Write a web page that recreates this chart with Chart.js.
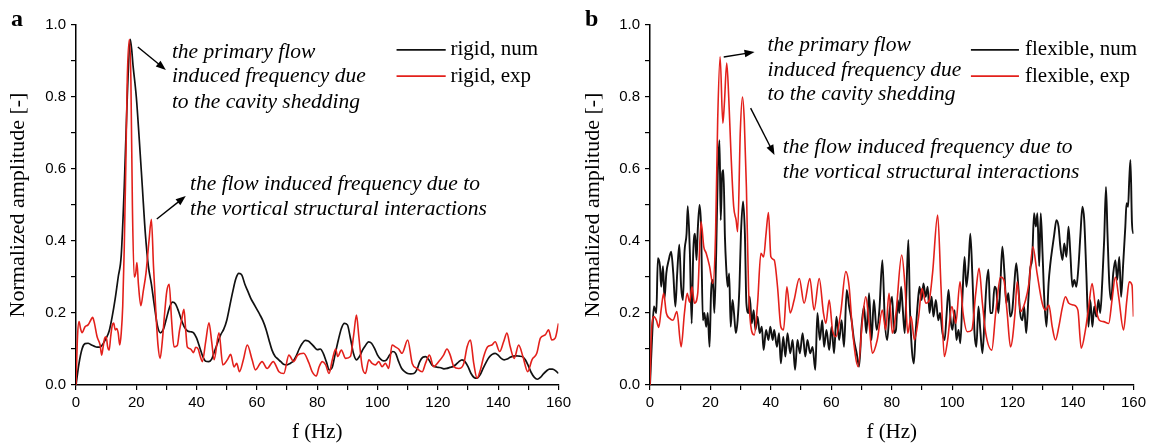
<!DOCTYPE html>
<html><head><meta charset="utf-8">
<script src="https://cdn.jsdelivr.net/npm/chart.js@4.4.0/dist/chart.umd.min.js"></script>
<style>
html,body{margin:0;padding:0;background:#fff;}
#wrap{position:relative;width:1150px;height:443px;overflow:hidden;}
.c{position:absolute;top:0;width:575px;height:443px;}
</style></head><body>
<div id="wrap">
<div class="c" style="left:0"><canvas id="ca" width="575" height="443"></canvas></div>
<div class="c" style="left:575px"><canvas id="cb" width="575" height="443"></canvas></div>
</div>
<script>
// ---------- Panel a : rigid ----------
const rigidNumF = [0,1,2,3,4,5,6,7,8,9,10,11,12,13,14,15,16,17,18,19,20,21,22,23,24,25,26,27,28,29,30,31,32,33,34,35,36,37,38,39,40,41,42,43,44,45,46,47,48,49,50,51,52,53,54,55,56,57,58,59,60,61,62,63,64,65,66,67,68,69,70,71,72,73,74,75,76,77,78,79,80,81,82,83,84,85,86,87,88,89,90,91,92,93,94,95,96,97,98,99,100,101,102,103,104,105,106,107,108,109,110,111,112,113,114,115,116,117,118,119,120,121,122,123,124,125,126,127,128,129,130,131,132,133,134,135,136,137,138,139,140,141,142,143,144,145,146,147,148,149,150,151,152,153,154,155,156,157,158,159,160];
const rigidNumA = [0,0.06,0.1,0.115,0.116,0.112,0.108,0.105,0.105,0.115,0.13,0.15,0.19,0.24,0.3,0.36,0.55,0.8,0.96,0.88,0.8,0.68,0.55,0.42,0.33,0.28,0.22,0.165,0.145,0.155,0.185,0.215,0.23,0.225,0.205,0.18,0.16,0.15,0.148,0.145,0.13,0.105,0.08,0.066,0.065,0.072,0.095,0.118,0.14,0.155,0.18,0.22,0.26,0.295,0.31,0.305,0.28,0.26,0.24,0.225,0.21,0.195,0.178,0.155,0.125,0.097,0.08,0.072,0.064,0.057,0.056,0.06,0.066,0.08,0.1,0.115,0.124,0.122,0.115,0.106,0.098,0.1,0.088,0.065,0.042,0.05,0.088,0.125,0.157,0.171,0.167,0.13,0.088,0.07,0.079,0.097,0.11,0.12,0.116,0.102,0.083,0.072,0.067,0.07,0.083,0.093,0.088,0.065,0.046,0.037,0.032,0.031,0.032,0.042,0.065,0.077,0.079,0.07,0.056,0.051,0.049,0.048,0.045,0.046,0.049,0.051,0.057,0.065,0.07,0.065,0.051,0.032,0.021,0.019,0.028,0.046,0.063,0.077,0.085,0.088,0.083,0.074,0.07,0.072,0.077,0.08,0.081,0.08,0.079,0.07,0.053,0.034,0.021,0.016,0.021,0.031,0.039,0.044,0.044,0.04,0.032];

const rigidExpF = [0,0.5,1,1.5,2,3,4,5,5.5,6,7,8,8.5,9,9.5,10,10.5,11,11.5,12,12.5,13,13.5,14,14.5,15,15.5,16,16.5,17,17.7,18.2,18.7,19.3,19.8,20.2,20.7,21.5,22.3,23.2,24.2,25,25.7,26.5,27.2,27.9,28.6,29.4,30.1,30.9,31.7,32.5,33.6,34.3,35,35.8,36.4,36.9,38,39,39.7,40.5,41.2,41.9,43,44.1,45,45.8,47.4,48.7,50.2,51.3,52.4,53.3,54.2,55.5,56.8,58.4,59.5,61.7,63.4,65.4,67.3,68.9,70.6,72.2,73.5,75.5,77.2,78.3,79.7,80.6,81.7,82.8,83.9,85,86.1,86.8,88,89.4,91,92.1,93,93.8,94.9,96,97.1,98.2,99.3,100.4,101.5,102.6,103.7,104.8,105.9,107,108.1,110,111.5,113.1,114.8,115.9,117.2,118.6,120.3,121.9,123,124.1,125.3,126.9,128.6,129.7,130.8,131.9,133,134.1,135.2,136.5,137.9,139,140.5,141.8,142.9,144,145.3,146.8,148.2,149.8,151.2,152.8,154,155.6,156.7,157.8,158.9,160];
const rigidExpA = [0,0.134,0.176,0.157,0.145,0.162,0.167,0.182,0.188,0.176,0.134,0.111,0.083,0.106,0.13,0.134,0.106,0.097,0.134,0.165,0.172,0.153,0.157,0.144,0.111,0.144,0.22,0.38,0.6,0.85,0.96,0.85,0.5,0.3,0.31,0.34,0.28,0.22,0.26,0.31,0.4,0.46,0.33,0.2,0.11,0.074,0.12,0.2,0.26,0.28,0.18,0.106,0.11,0.15,0.18,0.21,0.15,0.106,0.1,0.09,0.105,0.1,0.08,0.065,0.12,0.173,0.12,0.07,0.145,0.056,0.07,0.085,0.05,0.06,0.037,0.07,0.111,0.07,0.042,0.065,0.046,0.065,0.037,0.032,0.083,0.065,0.083,0.088,0.062,0.037,0.025,0.05,0.065,0.056,0.032,0.07,0.1,0.079,0.097,0.074,0.079,0.14,0.194,0.134,0.051,0.032,0.07,0.06,0.056,0.065,0.051,0.06,0.046,0.111,0.106,0.1,0.088,0.125,0.06,0.046,0.037,0.06,0.083,0.051,0.065,0.083,0.1,0.083,0.051,0.046,0.06,0.106,0.125,0.06,0.019,0.042,0.079,0.106,0.111,0.12,0.093,0.12,0.144,0.106,0.074,0.111,0.079,0.037,0.07,0.088,0.13,0.139,0.153,0.125,0.13,0.171];

// ---------- Panel b : flexible ----------
const flexNumF = [0,0.7,1.3,2.1,2.6,3.3,3.7,4.3,4.8,5.4,6.2,7,7.7,8.4,9,9.7,10.3,10.9,11.4,12.1,12.5,13.2,13.8,14.3,14.9,15.4,15.8,16.4,16.9,17.5,18,18.6,19.1,19.7,20.2,20.8,21.3,21.9,22.4,23,23.4,23.9,24.3,24.8,25.2,25.7,26.2,26.7,27.3,27.8,28.4,29,29.6,30.1,30.8,31.4,31.9,32.6,33,33.7,34.3,34.9,35.6,36.3,37,37.6,38.4,39.2,39.8,40.6,41.1,42,42.7,43.3,44.1,44.8,45.5,46.4,47.2,48,48.8,49.6,50.5,51.4,52.1,53,53.8,54.7,55.4,56.2,57,57.6,58.4,59.3,60.1,60.9,61.7,62.6,63.4,64.2,65.1,65.9,66.7,67.5,68.4,69.2,70,70.8,71.6,72.5,73.3,74.1,75,75.9,76.9,77.7,78.5,79.3,80.1,80.8,81.4,82,82.5,83.1,83.6,84.3,84.9,85.5,86,86.6,87.3,87.9,88.6,89.2,89.9,90.5,91.2,91.9,92.5,93.2,93.8,94.6,95.4,96,96.8,97.5,98.1,98.8,99.5,100.1,100.8,101.4,102.1,102.7,103.4,104.1,104.7,105.4,106,106.7,107.4,108,108.7,109.3,110,110.7,111.3,112,112.6,113.3,114,114.6,115.3,115.9,116.6,117.3,117.9,118.6,119.2,119.9,120.5,121.2,121.9,122.5,123.2,123.8,124.5,125.2,125.8,126.5,127.1,127.7,128.2,128.8,129.3,129.9,130.5,131.2,131.9,132.5,133.2,133.8,134.5,135.2,135.8,136.5,137.1,137.8,138.5,139.1,139.8,140.4,141.1,141.8,142.4,143.1,143.7,144.4,145.1,145.7,146.4,147,147.7,148.4,149,149.7,150.3,150.9,151.4,152,152.6,153.3,154,154.6,155.3,155.9,156.6,157.3,157.7,158.2,158.6,159,159.5,160];
const flexNumA = [0,0.134,0.218,0.2,0.352,0.33,0.273,0.33,0.24,0.31,0.347,0.37,0.31,0.218,0.31,0.39,0.273,0.236,0.366,0.42,0.497,0.366,0.171,0.366,0.42,0.347,0.43,0.5,0.44,0.18,0.2,0.162,0.2,0.106,0.255,0.292,0.2,0.366,0.58,0.68,0.458,0.588,0.597,0.41,0.33,0.273,0.31,0.162,0.236,0.2,0.144,0.18,0.273,0.42,0.51,0.42,0.227,0.2,0.245,0.171,0.208,0.153,0.19,0.144,0.162,0.097,0.153,0.125,0.162,0.125,0.153,0.106,0.144,0.06,0.134,0.079,0.144,0.088,0.125,0.042,0.125,0.088,0.144,0.079,0.125,0.088,0.106,0.042,0.2,0.125,0.18,0.106,0.153,0.097,0.162,0.088,0.19,0.125,0.18,0.106,0.264,0.218,0.18,0.125,0.088,0.051,0.162,0.218,0.144,0.255,0.125,0.236,0.153,0.208,0.347,0.18,0.125,0.208,0.245,0.144,0.153,0.236,0.2,0.273,0.218,0.144,0.273,0.403,0.218,0.106,0.06,0.144,0.227,0.273,0.236,0.282,0.245,0.273,0.2,0.245,0.19,0.236,0.18,0.2,0.144,0.125,0.19,0.264,0.18,0.153,0.208,0.125,0.153,0.116,0.245,0.356,0.273,0.33,0.42,0.3,0.144,0.106,0.218,0.153,0.088,0.18,0.273,0.32,0.2,0.2,0.273,0.264,0.2,0.273,0.384,0.31,0.227,0.255,0.19,0.208,0.273,0.338,0.273,0.2,0.18,0.218,0.144,0.236,0.32,0.356,0.477,0.44,0.477,0.33,0.477,0.366,0.236,0.162,0.282,0.338,0.384,0.42,0.458,0.44,0.384,0.347,0.393,0.356,0.44,0.366,0.273,0.292,0.273,0.33,0.412,0.495,0.458,0.31,0.162,0.236,0.162,0.218,0.19,0.236,0.2,0.292,0.403,0.55,0.42,0.282,0.236,0.31,0.347,0.292,0.356,0.245,0.338,0.44,0.505,0.495,0.57,0.625,0.45,0.42];

const flexExpF = [0,0.4,1.3,2.1,2.9,3.7,4.5,5.4,6.5,7.6,8.9,10.3,11.4,12.3,13.1,13.9,14.7,15.8,16.9,17.8,18.6,19.7,20.8,21.7,22.4,23.2,24.1,24.6,25.4,26.1,26.8,27.7,28.5,29,29.9,30.6,31.2,31.9,32.6,33.4,34.5,35.6,36.7,37.6,38.4,39.2,40,41.1,42.2,43.3,44.2,45.3,46.4,47.7,49.4,51,52.9,54.3,56,57.4,58.2,59.3,60.4,61.5,63.1,64.8,65.9,67,68.9,70.3,71.4,72.5,73.6,75.2,76.9,78,79.1,80.2,81.4,83.3,84.4,85.3,86.4,87.5,88.9,90,91.3,92.4,93.5,95.2,96.3,97.4,98.5,99.9,101.2,102.6,103.6,105,106.5,107.8,108.9,110,111.1,113.1,114.4,116,117.1,118.2,119.3,120.8,121.5,122.6,124.3,125.4,126.7,128.1,129.8,130.9,132,133.1,134.2,135.3,136.4,137.5,138.6,140.2,141.6,142.7,144.1,145.2,146.3,147.4,148.7,150.1,151.8,152.9,154,155.1,156.7,157.8,158.6,159.5,160];
const flexExpA = [0,0.134,0.19,0.18,0.16,0.21,0.255,0.2,0.185,0.18,0.204,0.106,0.2,0.255,0.23,0.273,0.227,0.255,0.454,0.384,0.366,0.33,0.282,0.42,0.736,0.912,0.727,0.78,0.894,0.79,0.643,0.495,0.458,0.426,0.708,0.8,0.736,0.55,0.273,0.162,0.139,0.227,0.366,0.356,0.42,0.479,0.356,0.347,0.273,0.162,0.153,0.273,0.2,0.236,0.296,0.227,0.296,0.208,0.296,0.2,0.171,0.236,0.153,0.134,0.2,0.315,0.273,0.153,0.051,0.18,0.245,0.171,0.088,0.125,0.208,0.153,0.255,0.144,0.2,0.361,0.273,0.144,0.19,0.125,0.19,0.268,0.227,0.236,0.31,0.472,0.273,0.079,0.125,0.218,0.171,0.287,0.2,0.148,0.153,0.255,0.324,0.227,0.144,0.097,0.2,0.3,0.292,0.2,0.106,0.2,0.287,0.204,0.236,0.282,0.384,0.31,0.227,0.208,0.222,0.162,0.125,0.162,0.213,0.245,0.227,0.222,0.208,0.102,0.153,0.218,0.282,0.218,0.18,0.176,0.171,0.236,0.3,0.245,0.153,0.236,0.287,0.278,0.19];

// ---------- Text ----------
const xTitle = 'f (Hz)';
const yTitle = 'Normalized amplitude [-]';
const rigidLabels = ['rigid, num', 'rigid, exp'];
const flexLabels = ['flexible, num', 'flexible, exp'];
const notePrimary = ['the primary flow', 'induced frequency due', 'to the cavity shedding'];
const noteVortical = ['the flow induced frequency due to', 'the vortical structural interactions'];

const BLACK = '#111111', RED = '#e3201b';
const SERIF = '"Liberation Serif", "Times New Roman", serif';
const SANS = '"Liberation Sans", Arial, sans-serif';

function arrow(ctx, x1, y1, x2, y2) {
  const a = Math.atan2(y2 - y1, x2 - x1), L = 10, W = 3.8;
  ctx.beginPath(); ctx.moveTo(x1, y1);
  ctx.lineTo(x2 - L * 0.7 * Math.cos(a), y2 - L * 0.7 * Math.sin(a)); ctx.stroke();
  ctx.beginPath(); ctx.moveTo(x2, y2);
  ctx.lineTo(x2 - L * Math.cos(a) + W * Math.sin(a), y2 - L * Math.sin(a) - W * Math.cos(a));
  ctx.lineTo(x2 - L * Math.cos(a) - W * Math.sin(a), y2 - L * Math.sin(a) + W * Math.cos(a));
  ctx.closePath(); ctx.fill();
}

const overlay = {
  id: 'overlay',
  afterDatasetsDraw(chart, args, o) {
    const ctx = chart.ctx, xs = chart.scales.x, ys = chart.scales.y;
    const X = v => xs.getPixelForValue(v), Y = v => ys.getPixelForValue(v);
    ctx.save();
    ctx.fillStyle = '#000'; ctx.strokeStyle = '#000';
    // panel letter
    ctx.font = 'bold 24px ' + SERIF; ctx.textBaseline = 'alphabetic'; ctx.textAlign = 'left';
    ctx.fillText(o.letter, o.letterPos[0], o.letterPos[1]);
    // legend
    ctx.font = '21px ' + SERIF; ctx.textBaseline = 'middle';
    o.legendOrder.forEach((di, i) => {
      const ds = chart.data.datasets[di];
      const y = Y(o.legendY[i]);
      ctx.strokeStyle = ds.borderColor; ctx.lineWidth = 1.6;
      ctx.beginPath(); ctx.moveTo(X(o.legendLine[0]), y); ctx.lineTo(X(o.legendLine[1]), y); ctx.stroke();
      ctx.fillStyle = '#000';
      ctx.fillText(ds.label, X(o.legendText), y);
    });
    // notes
    ctx.font = 'italic 21.5px ' + SERIF; ctx.fillStyle = '#000';
    o.notes.forEach(n => {
      n.lines.forEach((t, i) => ctx.fillText(t, X(n.x), Y(n.y[i])));
    });
    ctx.strokeStyle = '#000'; ctx.lineWidth = 1.4;
    o.arrows.forEach(a => arrow(ctx, X(a[0]), Y(a[1]), X(a[2]), Y(a[3])));
    ctx.restore();
  }
};

function series(F, A) { return F.map((f, i) => ({x: f, y: A[i]})); }

function options(yWidth, padRight, ov) {
  return {
    responsive: false, animation: false, devicePixelRatio: 1,
    layout: {padding: {top: 25, right: padRight, left: 0, bottom: 0}},
    plugins: {legend: {display: false}, tooltip: {enabled: false}, overlay: ov},
    elements: {point: {radius: 0}, line: {borderWidth: 1.6, cubicInterpolationMode: 'monotone'}},
    scales: {
      x: {
        type: 'linear', min: 0, max: 160,
        afterFit(s) { s.height = 58; },
        border: {display: true, color: '#000', width: 1.5},
        grid: {drawOnChartArea: false, drawTicks: true, tickLength: 5, color: '#000', lineWidth: 1.2},
        ticks: {stepSize: 10, autoSkip: false, maxRotation: 0, padding: 4, color: '#000',
          font: {family: SANS, size: 15},
          callback: v => (Math.round(v) % 20 === 0 ? String(Math.round(v)) : '')},
        title: {display: true, text: xTitle, color: '#000', font: {family: SERIF, size: 21, lineHeight: 1}, padding: {top: 0, bottom: 0}}
      },
      y: {
        min: 0, max: 1,
        afterFit(s) { s.width = yWidth; },
        border: {display: true, color: '#000', width: 1.5},
        grid: {drawOnChartArea: false, drawTicks: true, tickLength: 5, color: '#000', lineWidth: 1.2},
        ticks: {stepSize: 0.1, autoSkip: false, padding: 5, color: '#000',
          font: {family: SANS, size: 15},
          callback: v => (Math.round(v * 10) % 2 === 0 ? v.toFixed(1) : '')},
        title: {display: true, text: yTitle, color: '#000', font: {family: SERIF, size: 22, lineHeight: 1}, padding: {top: 7.5, bottom: 0}}
      }
    }
  };
}

new Chart(document.getElementById('ca'), {
  type: 'line',
  data: {datasets: [
    {label: rigidLabels[0], data: series(rigidNumF, rigidNumA), borderColor: BLACK, borderWidth: 1.7, order: 1},
    {label: rigidLabels[1], data: series(rigidExpF, rigidExpA), borderColor: RED, borderWidth: 1.6, order: 0}
  ]},
  options: options(76, 16, {
    letter: 'a', letterPos: [11, 26],
    legendOrder: [0, 1], legendY: [0.931, 0.858], legendLine: [106.3, 122.6], legendText: 124.2,
    notes: [{lines: notePrimary, x: 31.8, y: [0.925, 0.856, 0.786]},
            {lines: noteVortical, x: 37.8, y: [0.558, 0.489]}],
    arrows: [[20.5, 0.939, 29.8, 0.875], [26.8, 0.461, 36.4, 0.525]]
  }),
  plugins: [overlay]
});

new Chart(document.getElementById('cb'), {
  type: 'line',
  data: {datasets: [
    {label: flexLabels[0], data: series(flexNumF, flexNumA), borderColor: BLACK, borderWidth: 1.9, order: 1},
    {label: flexLabels[1], data: series(flexExpF, flexExpA), borderColor: RED, borderWidth: 1.6, order: 0}
  ]},
  options: options(75, 15, {
    letter: 'b', letterPos: [10, 26],
    legendOrder: [0, 1], legendY: [0.931, 0.858], legendLine: [106.2, 122.1], legendText: 124.1,
    notes: [{lines: notePrimary, x: 38.9, y: [0.944, 0.875, 0.806]},
            {lines: noteVortical, x: 43.9, y: [0.661, 0.592]}],
    arrows: [[24.4, 0.911, 34.6, 0.925], [33.3, 0.769, 41.2, 0.639]]
  }),
  plugins: [overlay]
});
</script>
</body></html>
